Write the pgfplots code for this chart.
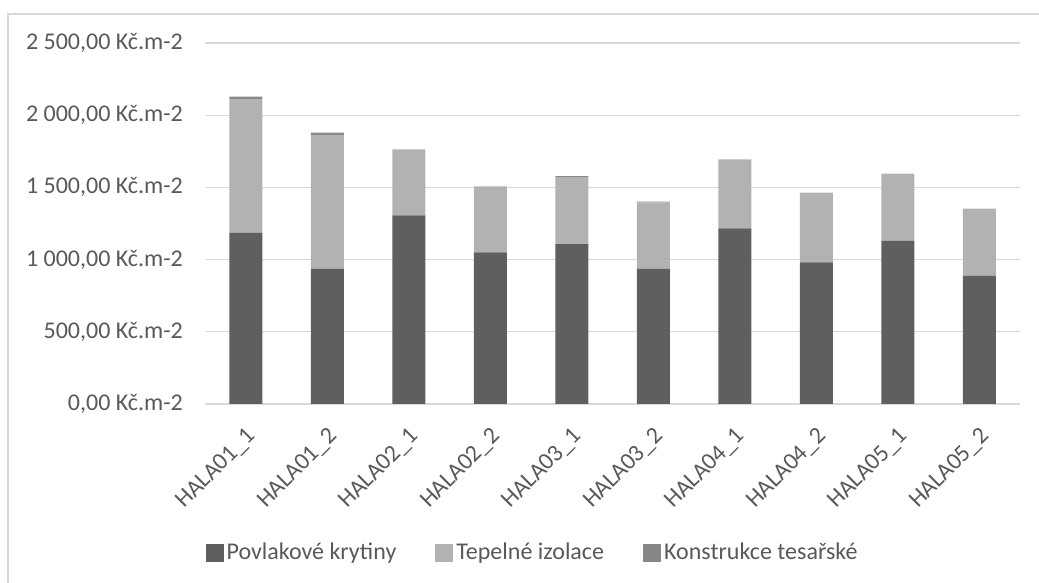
\documentclass[border=0pt]{standalone}
\usepackage{fontspec}
\setmainfont{Carlito}
\usepackage{pgfplots}
\pgfplotsset{compat=1.18}
\definecolor{povlak}{HTML}{5F5F5F}
\definecolor{izol}{HTML}{B2B2B2}
\definecolor{tesar}{HTML}{878787}
\definecolor{gridc}{HTML}{D9D9D9}
\definecolor{txt}{HTML}{595959}

\begin{document}
\begin{tikzpicture}
% outer chart frame (cut off on the right and at the bottom)
\draw[gridc, line width=0.6pt] (4pt,-10pt) -- (4pt,284.5pt) -- (530pt,284.5pt);
\begin{axis}[
  at={(102.5pt,89.5pt)}, anchor=south west, scale only axis,
  width=407.5pt, height=180.5pt,
  ybar stacked, bar width=16.5pt,
  xmin=-0.5, xmax=9.5, ymin=0, ymax=2500,
  xtick={0,...,9}, ytick={0,500,...,2500},
  xticklabels={HALA01\_1,HALA01\_2,HALA02\_1,HALA02\_2,HALA03\_1,
               HALA03\_2,HALA04\_1,HALA04\_2,HALA05\_1,HALA05\_2},
  yticklabels={{0,00 Kč.m-2},{500,00 Kč.m-2},{1 000,00 Kč.m-2},
               {1 500,00 Kč.m-2},{2 000,00 Kč.m-2},{2 500,00 Kč.m-2}},
  ymajorgrids, grid style={gridc, line width=0.6pt},
  axis line style={draw=none}, major tick length=0pt,
  tick label style={font=\fontsize{12}{14}\selectfont, text=txt},
  yticklabel style={xshift=-7.6pt},
  xticklabel style={xshift=5.5pt, yshift=-12pt, rotate=45, anchor=east},
  legend columns=3,
  legend style={draw=none, at={(0.4025,-0.4127)}, anchor=center,
    font=\fontsize{12}{14}\selectfont, text=txt, nodes={inner sep=1.5pt},
    /tikz/every even column/.append style={column sep=18pt}},
  legend image code/.code={\fill[#1] (0pt,-4.5pt) rectangle (9pt,4.5pt);},
]
\addplot[fill=povlak, draw=none] coordinates
  {(0,1187)(1,935)(2,1306)(3,1050)(4,1108)(5,938)(6,1216)(7,981)(8,1129)(9,887)};
\addplot[fill=izol, draw=none] coordinates
  {(0,924)(1,929)(2,457)(3,457)(4,463)(5,458)(6,478)(7,482)(8,466)(9,466)};
\addplot[fill=tesar, draw=none] coordinates
  {(0,18)(1,16)(2,0)(3,0)(4,7)(5,6)(6,0)(7,0)(8,0)(9,0)};
\legend{Povlakové krytiny, Tepelné izolace, Konstrukce tesařské}
\draw[gridc, line width=0.6pt] (rel axis cs:0,0) -- (rel axis cs:1,0);
\end{axis}
\pgfresetboundingbox
\useasboundingbox (0pt,0pt) rectangle (519.5pt,291.5pt);
\end{tikzpicture}
\end{document}
